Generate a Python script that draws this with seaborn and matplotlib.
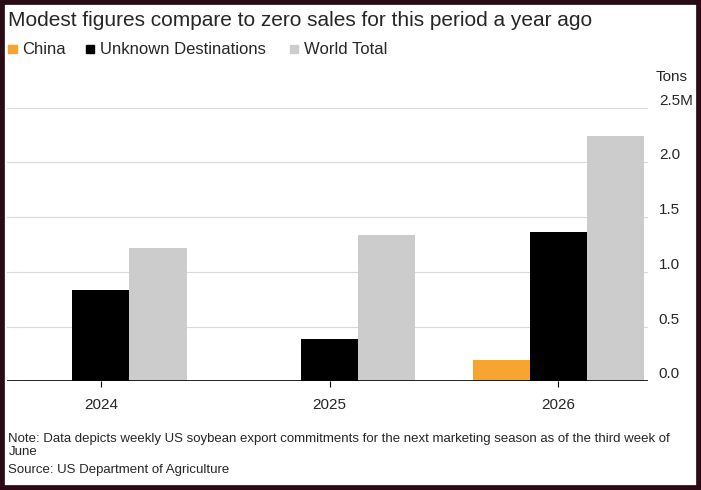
import matplotlib
matplotlib.use("Agg")
import matplotlib.pyplot as plt
import seaborn as sns
import pandas as pd
from matplotlib.patches import Rectangle

years = ["2024", "2025", "2026"]
series = ["China", "Unknown Destinations", "World Total"]
china = [0.0, 0.0, 0.19]
unknown = [0.835, 0.385, 1.36]
world = [1.22, 1.34, 2.24]
colors = ["#f6a530", "#000000", "#cccccc"]
yticks = [0, 0.5, 1.0, 1.5, 2.0, 2.5]
ylabels = ["0.0", "0.5", "1.0", "1.5", "2.0", "2.5M"]

rows = []
for i, y in enumerate(years):
    for s, vals in zip(series, [china, unknown, world]):
        rows.append({"year": y, "series": s, "value": vals[i]})
df = pd.DataFrame(rows)

sns.set_style("white")
plt.rcParams['font.family'] = ['Liberation Sans', 'DejaVu Sans']
fig = plt.figure(figsize=(7.01, 4.90), dpi=100)
ax = fig.add_axes([0.01, 0.222, 0.914, 0.558])
sns.barplot(data=df, x="year", y="value", hue="series", palette=colors,
            width=0.75, gap=0, ax=ax, legend=False, saturation=1)
for p in ax.patches:
    p.set_linewidth(0)
ax.set_xlim(-0.41, 2.39)
ax.set_ylim(0, 2.5)
ax.set_yticks(yticks)
ax.set_yticklabels(ylabels)
ax.yaxis.tick_right()
for lab in ax.get_yticklabels():
    lab.set_verticalalignment("bottom")
ax.grid(axis="y", color="#d9d9d9", lw=0.8)
ax.set_axisbelow(True)
for s in ax.spines.values():
    s.set_visible(False)
ax.axhline(0, color="black", lw=1.2)
ax.tick_params(axis="y", length=0, labelsize=11, pad=8)
ax.tick_params(axis="x", length=4, labelsize=11, color="black", bottom=True, pad=8)
ax.set_xlabel("")
ax.set_ylabel("")
fig.text(0.935, 0.835, "Tons", fontsize=11, ha="left")

fig.text(0.012, 0.958, "Modest figures compare to zero sales for this period a year ago",
         fontsize=15, ha="left", va="center")
positions = [0.012, 0.122, 0.413]
for name, c, lx in zip(series, colors, positions):
    fig.patches.append(Rectangle((lx, 0.891), 0.012, 0.017, transform=fig.transFigure,
                                 color=c, figure=fig))
    fig.text(lx + 0.02, 0.898, name, fontsize=12, va="center")
fig.text(0.012, 0.117, "Note: Data depicts weekly US soybean export commitments for the next marketing season as of the third week of\nJune",
         fontsize=9.5, va="top", linespacing=1.15)
fig.text(0.012, 0.054, "Source: US Department of Agriculture", fontsize=9.5, va="top")
fig.patches.append(Rectangle((0, 0), 1, 1, transform=fig.transFigure, fill=False,
                             edgecolor="#2b0b16", lw=7, figure=fig))
fig.savefig("out.png", dpi=100)
